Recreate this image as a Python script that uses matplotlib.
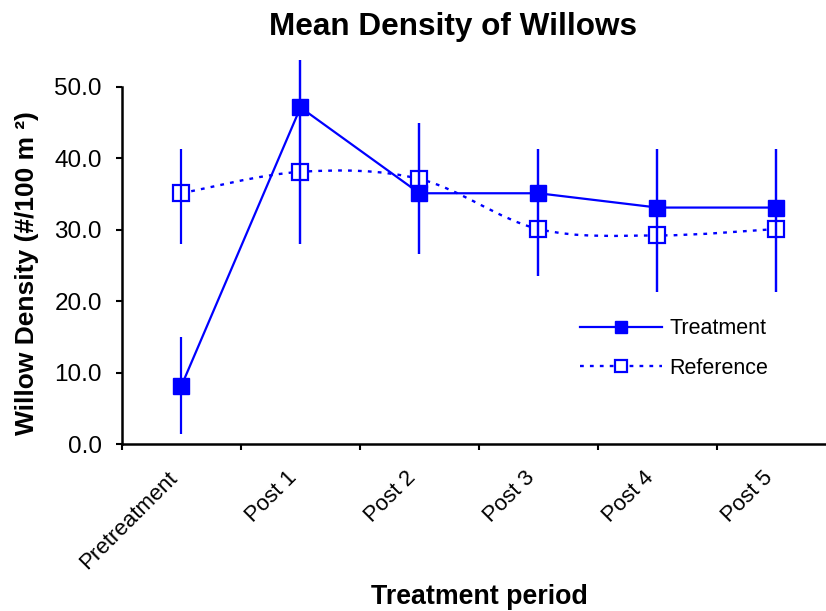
import numpy as np
import matplotlib
matplotlib.use('Agg')
import matplotlib.pyplot as plt
import matplotlib.transforms as mtransforms
from matplotlib.path import Path
from matplotlib.patches import PathPatch
from matplotlib.lines import Line2D

plt.rcParams['font.family'] = ['Liberation Sans', 'DejaVu Sans']

# data
periods = ['Pretreatment', 'Post 1', 'Post 2', 'Post 3', 'Post 4', 'Post 5']
treatment = [8.2, 47.1, 35.1, 35.1, 33.1, 33.1]
treatment_lo = [1.4, 28.0, 26.6, 23.5, 21.3, 21.3]
treatment_hi = [15.0, 53.7, 44.9, 41.3, 41.3, 41.3]
reference = [35.1, 38.1, 37.1, 30.1, 29.2, 30.1]
reference_lo = [28.0, 28.0, 26.6, 23.5, 21.3, 21.3]
reference_hi = [41.3, 53.7, 44.9, 41.3, 41.3, 41.3]

blue = '#0000FF'
x = np.arange(len(periods))

fig = plt.figure(figsize=(8.26, 6.11), dpi=100)
ax = fig.add_axes([122/826, 1-444.3/611, 714/826, (444.3-86.7)/611])

# smoothed dotted line for the reference series (cubic bezier, catmull-rom style)
pts = np.column_stack([x, reference]).astype(float)
ext = np.vstack([pts[0], pts, pts[-1]])
verts = [tuple(pts[0])]
codes = [Path.MOVETO]
for i in range(len(pts) - 1):
    p0, p1, p2, p3 = ext[i], ext[i+1], ext[i+2], ext[i+3]
    c1 = p1 + (p2 - p0) / 6
    c2 = p2 - (p3 - p1) / 6
    verts += [tuple(c1), tuple(c2), tuple(p2)]
    codes += [Path.CURVE4] * 3
ax.add_patch(PathPatch(Path(verts, codes), fill=False, edgecolor=blue,
                       lw=1.7, linestyle=(0, (1.6, 2.6)), zorder=2))
ax.plot(x, reference, ls='none', marker='s', ms=11, mfc='white', mec=blue,
        mew=1.6, zorder=3)

# error bars
for vals, lo, hi in [(treatment, treatment_lo, treatment_hi),
                     (reference, reference_lo, reference_hi)]:
    v = np.array(vals)
    yerr = [v - np.array(lo), np.array(hi) - v]
    eb = ax.errorbar(x, v, yerr=yerr, fmt='none', ecolor=blue, elinewidth=1.6,
                     capsize=0, zorder=4)
    for c in eb.get_children():
        c.set_clip_on(False)

ax.plot(x, treatment, color=blue, lw=1.6, marker='s', ms=11, mfc=blue,
        mec=blue, zorder=5)

ax.set_xlim(-0.5, 5.5)
ax.set_ylim(0, 50)
ax.set_yticks(np.arange(0, 51, 10))
ax.set_yticklabels(['%.1f' % v for v in np.arange(0, 51, 10)], fontsize=17.5)
ax.set_xticks(np.arange(-0.5, 5.6, 1.0))
ax.set_xticklabels([])
ax.set_xticks(x, minor=True)
ax.set_xticklabels(periods, minor=True, fontsize=16, rotation=45,
                   ha='right', va='center', rotation_mode='anchor')
ax.tick_params(axis='x', which='minor', length=0, pad=22)
ax.tick_params(axis='x', which='major', direction='out', length=4, width=1.5)
ax.tick_params(axis='y', direction='out', length=4.5, width=1.5, pad=10)

# nudge the rotated labels a little to the left
shift = mtransforms.ScaledTranslation(-7/100, 0, fig.dpi_scale_trans)
for lab in ax.get_xticklabels(minor=True):
    lab.set_transform(lab.get_transform() + shift)

for s in ['top', 'right']:
    ax.spines[s].set_visible(False)
for s in ['left', 'bottom']:
    ax.spines[s].set_linewidth(1.8)
ax.patch.set_alpha(0)

handles = [Line2D([], [], color=blue, lw=1.6, marker='s', ms=8.5, mfc=blue, mec=blue),
           Line2D([], [], color=blue, lw=1.7, linestyle=(0, (1.6, 2.6)),
                  marker='s', ms=8.5, mfc='white', mec=blue, mew=1.6)]
fig.legend(handles, ['Treatment', 'Reference'], loc='center left',
           bbox_to_anchor=(580/826, 1-348.5/611), frameon=False, fontsize=15.5,
           handlelength=3.8, handletextpad=0.35, labelspacing=0.85, borderpad=0,
           borderaxespad=0)

fig.text(453/826, 1-27/611, 'Mean Density of Willows', ha='center', va='center',
         fontsize=22.7, fontweight='bold')
fig.text(27/826, 1-273/611, 'Willow Density (#/100 m \u00b2)', ha='center',
         va='center', rotation=90, fontsize=19, fontweight='bold')
fig.text(479/826, 1-597/611, 'Treatment period', ha='center', va='center',
         fontsize=19.3, fontweight='bold')

fig.savefig('out.png', dpi=100)
